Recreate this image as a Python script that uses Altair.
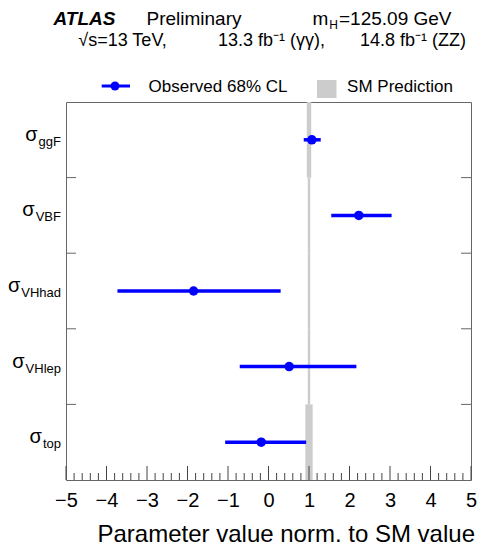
import altair as alt
import pandas as pd

# ---- data ----
categories = ["ggF", "VBF", "VHhad", "VHlep", "top"]
observed = [1.07, 2.23, -1.85, 0.51, -0.18]
lower = [0.87, 1.55, -3.73, -0.71, -1.07]
upper = [1.29, 3.04, 0.30, 2.17, 0.93]
sm_value = [1.0, 1.0, 1.0, 1.0, 1.0]
sm_unc = [0.055, 0.03, 0.03, 0.03, 0.09]
x_ticks = [-5, -4, -3, -2, -1, 0, 1, 2, 3, 4, 5]

W, H = 405, 378
FONT = "Liberation Sans"
BLUE = "#0000ff"
GREY = "#cccccc"
n = len(categories)

# approximate Arial advance widths (em) for subscript layout
cw = {"g": .556, "F": .611, "V": .667, "B": .667, "H": .722, "h": .556,
      "a": .556, "d": .556, "l": .222, "e": .556, "p": .556, "t": .278, "o": .556}
SUB_SIZE, SIG_SIZE = 13, 20
SUB_RIGHT = -5

df = pd.DataFrame({
    "cat": categories, "observed": observed, "lower": lower, "upper": upper,
    "sm_lo": [v - u for v, u in zip(sm_value, sm_unc)],
    "sm_hi": [v + u for v, u in zip(sm_value, sm_unc)],
})
df["pos"] = [n - i - 0.5 for i in range(n)]
df["pos_lo"] = df["pos"] - 0.5
df["pos_hi"] = df["pos"] + 0.5
df["sig_x"] = [SUB_RIGHT - 1 - SUB_SIZE * sum(cw[c] for c in cat) for cat in categories]

xscale = alt.Scale(domain=[-5, 5], nice=False, zero=False)
yscale = alt.Scale(domain=[0, n], nice=False, zero=False)

base = alt.Chart(df)

sm = base.mark_rect(color=GREY).encode(
    x=alt.X("sm_lo:Q", scale=xscale, title=None,
            axis=alt.Axis(values=x_ticks, format="d", ticks=False, tickSize=0,
                          domain=False, grid=False, labelFontSize=20, labelFont=FONT,
                          labelColor="black", labelPadding=26, labelBaseline="alphabetic",
                          labelFlush=False)),
    x2="sm_hi:Q",
    y=alt.Y("pos_lo:Q", scale=yscale, axis=None),
    y2="pos_hi:Q",
)

# inward ticks on x axis
major_df = pd.DataFrame({"v": x_ticks})
minor_vals = [round(t + k * 0.2, 2) for t in x_ticks[:-1] for k in range(1, 5)]
minor_df = pd.DataFrame({"v": minor_vals})
major = alt.Chart(major_df).mark_rule(color="#444444", strokeWidth=1).encode(
    x=alt.X("v:Q", scale=xscale, title=None), y=alt.value(H - 14), y2=alt.value(H))
minor = alt.Chart(minor_df).mark_rule(color="#444444", strokeWidth=1).encode(
    x=alt.X("v:Q", scale=xscale, title=None), y=alt.value(H - 7), y2=alt.value(H))

# ticks at row boundaries, left and right
bound_df = pd.DataFrame({"b": list(range(1, n))})
left_t = alt.Chart(bound_df).mark_rule(color="#666666", strokeWidth=1).encode(
    y=alt.Y("b:Q", scale=yscale, axis=None), x=alt.value(0), x2=alt.value(10))
right_t = alt.Chart(bound_df).mark_rule(color="#666666", strokeWidth=1).encode(
    y=alt.Y("b:Q", scale=yscale, axis=None), x=alt.value(W - 10), x2=alt.value(W))

err = base.mark_rule(color=BLUE, strokeWidth=3.5).encode(
    x=alt.X("lower:Q", scale=xscale, title=None), x2="upper:Q",
    y=alt.Y("pos:Q", scale=yscale, axis=None))
pts = base.mark_circle(color=BLUE, opacity=1, size=90).encode(
    x=alt.X("observed:Q", scale=xscale, title=None),
    y=alt.Y("pos:Q", scale=yscale, axis=None))

sig = base.mark_text(text="σ", align="right", baseline="alphabetic", dy=1,
                     fontSize=SIG_SIZE, font=FONT, color="black").encode(
    x=alt.X("sig_x:Q", scale=None), y=alt.Y("pos:Q", scale=yscale, axis=None))
sub = base.mark_text(align="right", baseline="alphabetic", dy=6,
                     fontSize=SUB_SIZE, font=FONT, color="black").encode(
    x=alt.value(SUB_RIGHT), y=alt.Y("pos:Q", scale=yscale, axis=None), text="cat:N")

one = pd.DataFrame({"k": [0]})


def label(text, x, y, size, align="left", weight="normal", style="normal"):
    return alt.Chart(one).mark_text(
        text=text, align=align, baseline="alphabetic", fontSize=size, font=FONT,
        fontWeight=weight, fontStyle=style, color="black").encode(
        x=alt.value(x), y=alt.value(y))


L1, L2 = -76.7, -56.5   # baselines relative to plot top
texts = [
    label("ATLAS", 18.5, L1, 19, align="center", weight="bold", style="italic"),
    label("Preliminary", 128, L1, 19, align="center"),
    label("m", 246.5, L1, 19),
    label("H", 263.3, L1 + 3.5, 12),
    label("=125.09 GeV", 273, L1, 19),
    label("√s=13 TeV,", 56.5, L2, 18, align="center"),
    label("13.3 fb⁻¹ (γγ),", 205.5, L2, 18, align="center"),
    label("14.8 fb⁻¹ (ZZ)", 347, L2, 18, align="center"),
    label("Observed 68% CL", 152, -10.3, 17, align="center"),
    label("SM Prediction", 334, -10.3, 17, align="center"),
    label("Parameter value norm. to SM value", 409, 439.5, 24, align="right"),
]

leg_line = alt.Chart(one).mark_rule(color=BLUE, strokeWidth=3).encode(
    x=alt.value(35.7), x2=alt.value(64), y=alt.value(-16))
leg_dot = alt.Chart(one).mark_circle(color=BLUE, opacity=1, size=80).encode(
    x=alt.value(49), y=alt.value(-16))
leg_box = alt.Chart(one).mark_rect(color=GREY).encode(
    x=alt.value(251), x2=alt.value(270.5), y=alt.value(-22), y2=alt.value(-4))

chart = alt.layer(
    sm, minor, major, left_t, right_t, err, pts, sig, sub,
    leg_line, leg_dot, leg_box, *texts
).properties(
    width=W, height=H,
    autosize=alt.AutoSizeParams(type="none"),
    padding={"left": 58, "top": 94, "right": 6, "bottom": 67},
    background="white",
).configure_view(stroke="#666666", strokeWidth=1)

chart.save("out.html", embed_options={"renderer": "svg", "actions": False})
